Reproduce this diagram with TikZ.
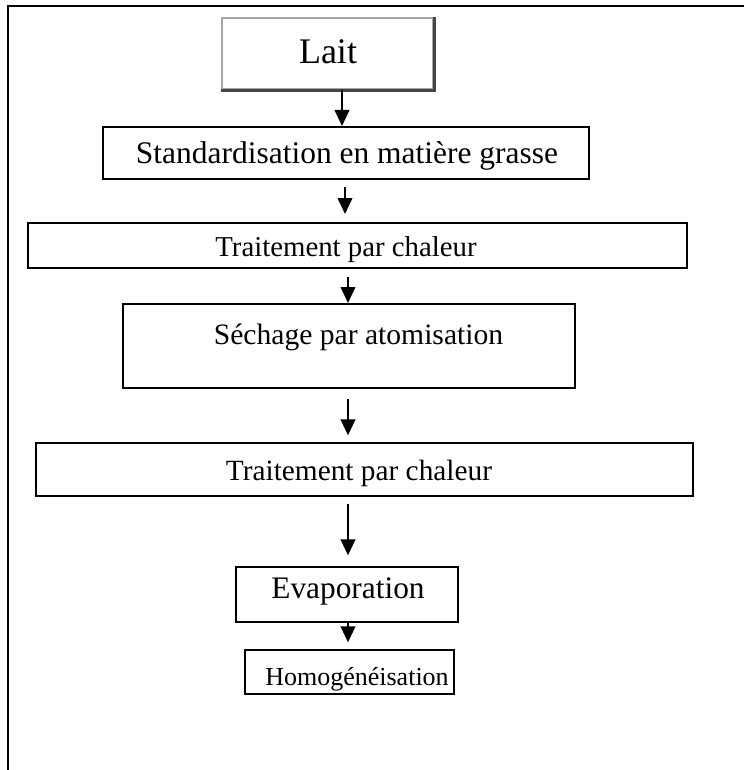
\documentclass[tikz,border=0pt]{standalone}
\usepackage{fontspec}
\setmainfont{Liberation Serif}
\usetikzlibrary{arrows.meta,calc}
\tikzset{
  stepbox/.style={draw=black, line width=1.5pt, rectangle, inner sep=0pt},
  lbl/.style={inner sep=0pt, anchor=center},
  arr/.style={line width=1.4pt, -{Triangle[length=12pt,width=11pt]}},
}
\begin{document}
\begin{tikzpicture}[x=0.75pt,y=-0.75pt]
\useasboundingbox (0,0) rectangle (744,770);
% outer frame (top and left only)
\draw[line width=2.2pt] (744,6) -- (8,6) -- (8,770);
% Lait box with 3D gray border
\node[draw=gray!70, line width=2pt, rectangle, inner sep=0pt,
      minimum width=211*0.75pt, minimum height=71*0.75pt] (lait) at (327.5,53.5) {};
\draw[gray!55!black, line width=2.6pt] (lait.south west) -- (lait.south east) -- (lait.north east);
\node[lbl, font=\fontsize{27}{30}\selectfont] (tlait) at (328,52) {Lait};
% boxes
\node[stepbox, minimum width=486*0.75pt, minimum height=52*0.75pt] (std) at (346,153) {};
\node[lbl, font=\fontsize{23.6}{26}\selectfont] (tstd) at (347,156) {Standardisation en matière grasse};
\node[stepbox, minimum width=659*0.75pt, minimum height=45*0.75pt] (tr1) at (357.5,245.5) {};
\node[lbl, font=\fontsize{21.6}{24}\selectfont] (ttr1) at (346,250) {Traitement par chaleur};
\node[stepbox, minimum width=452*0.75pt, minimum height=84*0.75pt] (sech) at (349,346) {};
\node[lbl, font=\fontsize{22.2}{25}\selectfont] (tsech) at (358.5,337) {Séchage par atomisation};
\node[stepbox, minimum width=657*0.75pt, minimum height=53*0.75pt] (tr2) at (364.5,469.5) {};
\node[lbl, font=\fontsize{22}{25}\selectfont] (ttr2) at (359,473) {Traitement par chaleur};
\node[stepbox, minimum width=222*0.75pt, minimum height=55*0.75pt] (evap) at (347,594.5) {};
\node[lbl, font=\fontsize{23.5}{25}\selectfont] (tevap) at (348,591) {Evaporation};
\node[stepbox, minimum width=209*0.75pt, minimum height=44*0.75pt] (homo) at (349.5,672) {};
\node[lbl, font=\fontsize{19.5}{22}\selectfont] (thomo) at (357,679) {Homogénéisation};
% arrows
\draw[arr] (lait.south -| 342,0) -- (std.north -| 342,0);
\draw[arr, shorten <=5.5pt, shorten >=6pt] (std.south -| 345,0) -- (tr1.north -| 345,0);
\draw[arr, shorten <=6pt] (tr1.south -| 348,0) -- (sech.north -| 348,0);
\draw[arr, shorten <=7.5pt, shorten >=5pt] (sech.south -| 348,0) -- (tr2.north -| 348,0);
\draw[arr, shorten <=5pt, shorten >=8pt] (tr2.south -| 348,0) -- (evap.north -| 348,0);
\draw[arr, shorten >=5pt] (evap.south -| 348,0) -- (homo.north -| 348,0);
\end{tikzpicture}
\end{document}
